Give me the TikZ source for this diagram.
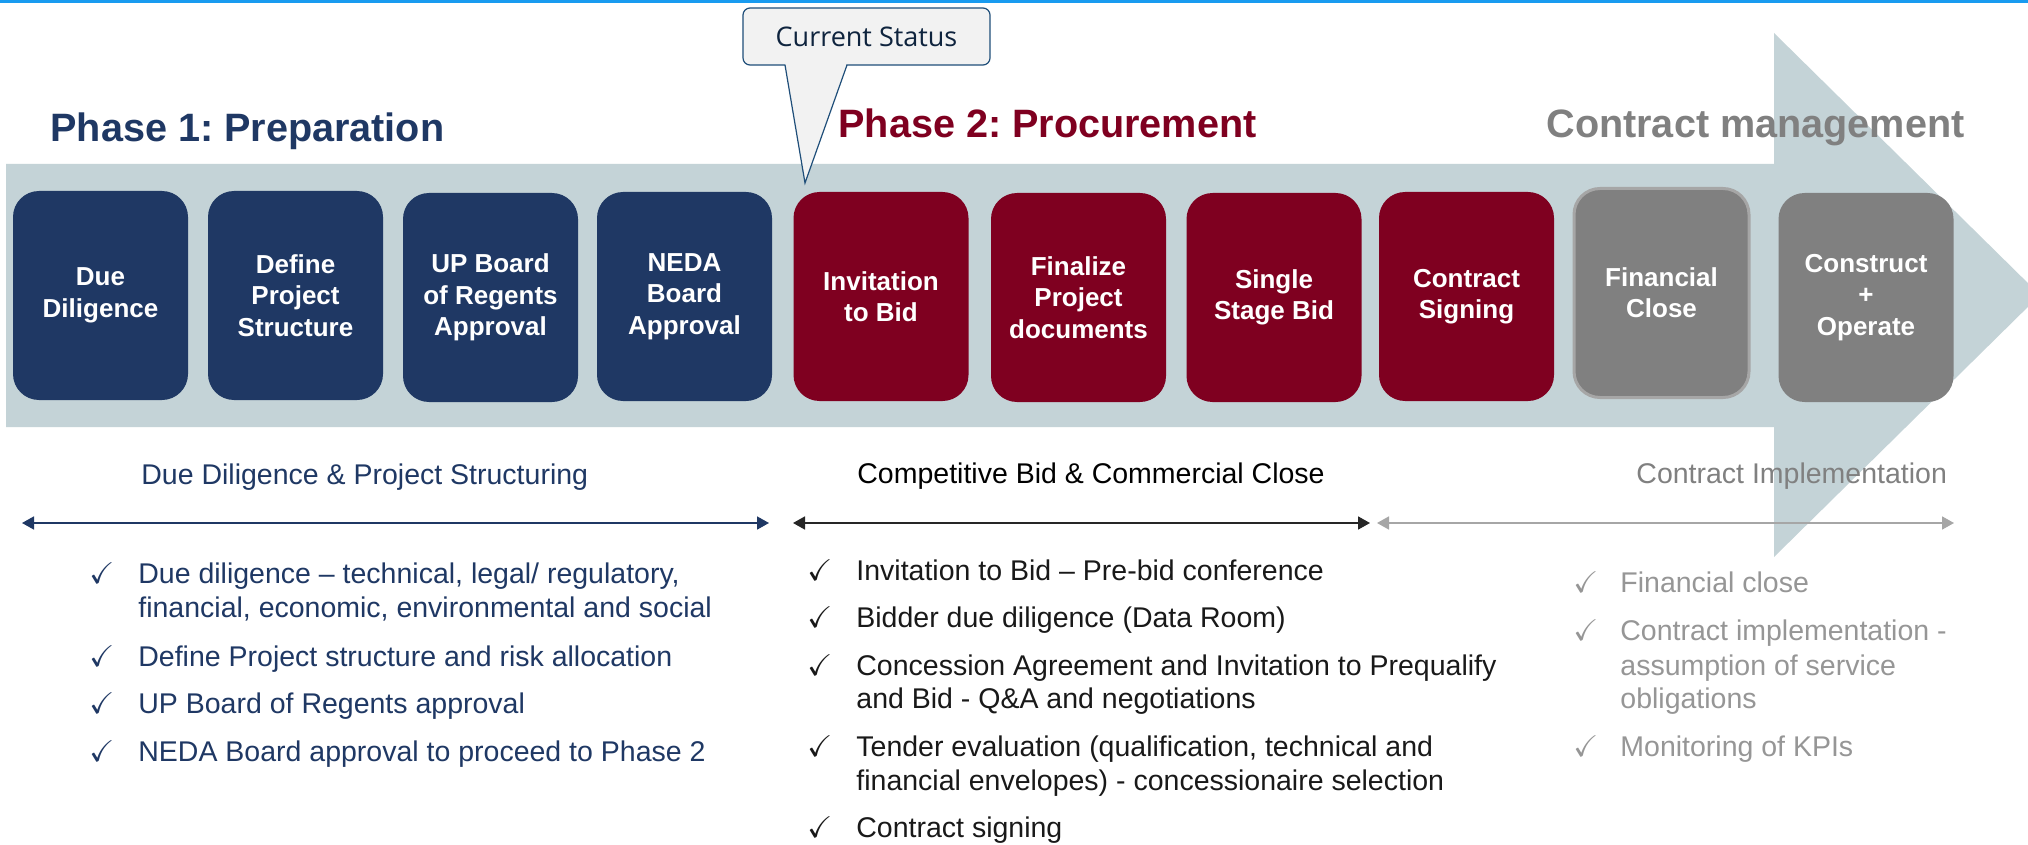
\documentclass[tikz,border=0pt]{standalone}
\usepackage{amssymb}
\usepackage{fontspec}
\setmainfont{Liberation Sans}
\newfontfamily\osfont{Open Sans}
\usetikzlibrary{arrows.meta}
\definecolor{navy}{RGB}{31,56,100}
\definecolor{wine}{RGB}{127,0,32}
\definecolor{boxgrey}{RGB}{128,128,128}
\definecolor{bordergrey}{RGB}{166,166,166}
\definecolor{bandcol}{RGB}{196,211,215}
\definecolor{topblue}{RGB}{24,155,240}
\definecolor{callborder}{RGB}{31,78,121}
\definecolor{callfill}{RGB}{242,242,242}
\definecolor{calltext}{RGB}{15,36,62}
\definecolor{lightgreytext}{RGB}{150,150,150}
\definecolor{midgrey}{RGB}{128,128,128}
\frenchspacing
\begin{document}
\begin{tikzpicture}[x=0.5pt,y=-0.5pt,
  stage/.style={rounded corners=13pt, minimum width=87.5pt, minimum height=104.5pt,
    inner sep=0pt, align=center, text=white, font=\fontsize{13}{15.7}\selectfont\bfseries},
  bluestage/.style={stage, fill=navy},
  redstage/.style={stage, fill=wine},
  greystage/.style={stage, fill=boxgrey},
  title/.style={anchor=base west, inner sep=0pt, font=\fontsize{19.8}{23}\selectfont\bfseries},
  body/.style={anchor=base west, inner sep=0pt, font=\fontsize{14.25}{17}\selectfont},
  tick/.style={anchor=base west, inner sep=0pt, font=\fontsize{15}{17}\selectfont},
  dbl/.style={line width=0.85pt, {Triangle[length=6pt,width=6.5pt]}-{Triangle[length=6pt,width=6.5pt]}},
  callbox/.style={draw=callborder, fill=callfill, line width=0.6pt, rounded corners=3.5pt,
    minimum width=123.5pt, minimum height=28.5pt, inner sep=0pt, text=calltext,
    font=\osfont\fontsize{13.5}{16}\selectfont}
]
\useasboundingbox (0,0) rectangle (2028,845);
\clip (0,0) rectangle (2028,845);
\fill[white] (0,0) rectangle (2028,845);
% top line
\fill[topblue] (0,0) rectangle (2028,3);
% big arrow
\fill[bandcol] (6,164) -- (1774,164) -- (1774,33) -- (2040,295) -- (1774,557) -- (1774,427) -- (6,427) -- cycle;

% stages
\node[bluestage] (s1) at (100.5,295.5) {Due\\Diligence};
\node[bluestage] (s2) at (295.5,295.5) {Define\\Project\\Structure};
\node[bluestage] (s3) at (490.5,297.5) {UP Board\\of Regents\\Approval};
\node[bluestage] (s4) at (684.5,296.5) {NEDA\\Board\\Approval};
\node[redstage] (s5) at (881,296.5) {Invitation\\to Bid};
\node[redstage] (s6) at (1078.5,297.5) {Finalize\\Project\\documents};
\node[redstage] (s7) at (1274,297.5) {Single\\Stage Bid};
\node[redstage] (s8) at (1466.5,296.5) {Contract\\Signing};
\node[greystage, draw=bordergrey, line width=1.5pt] (s9) at (1661.5,293) {Financial\\Close};
\node[greystage] (s10) at (1866,297.5) {Construct\\+\\Operate};

% callout
\node[callbox] (cs) at (866.5,36.5) {Current Status};
\coordinate (csfl) at (785,62.5);
\coordinate (csfr) at (847,62.5);
\coordinate (csl) at (785,65);
\coordinate (csr) at (847,65);
\coordinate (cstip) at (805,183);
\fill[callfill] (csfl) -- (cstip) -- (csfr) -- cycle;
\draw[callborder, line width=0.6pt, line join=miter] (csl) -- (cstip) -- (csr);

% titles
\node[title, text=navy] (t1) at (50,142) {Phase 1: Preparation};
\node[title, text=wine] (t2) at (838,138) {Phase 2: Procurement};
\node[title, text=midgrey] (t3) at (1546,138) {Contract management};

% section labels
\node[body, text=navy] (l1) at (141,484) {Due Diligence \& Project Structuring};
\node[body, text=black] (l2) at (857,483) {Competitive Bid \& Commercial Close};
\node[body, text=midgrey] (l3) at (1636,483) {Contract Implementation};

% double arrows
\coordinate (a1l) at (22,523);
\coordinate (a1r) at (769,523);
\coordinate (a2l) at (793,523);
\coordinate (a2r) at (1370,523);
\coordinate (a3l) at (1377,523);
\coordinate (a3r) at (1954,523);
\draw[dbl, navy] (a1l) -- (a1r);
\draw[dbl, black!85] (a2l) -- (a2r);
\draw[dbl, bordergrey] (a3l) -- (a3r);

% phase 1 list
\begin{scope}[every node/.append style={text=navy}]
\node[tick] (c11) at (89,583) {$\checkmark$};
\node[body] (p11a) at (138,583) {Due diligence – technical, legal/ regulatory,};
\node[body] (p11b) at (138,617) {financial, economic, environmental and social};
\node[tick] (c12) at (89,666) {$\checkmark$};
\node[body] (p12) at (138,666) {Define Project structure and risk allocation};
\node[tick] (c13) at (89,713) {$\checkmark$};
\node[body] (p13) at (138,713) {UP Board of Regents approval};
\node[tick] (c14) at (89,761) {$\checkmark$};
\node[body] (p14) at (138,761) {NEDA Board approval to proceed to Phase 2};
\end{scope}

% phase 2 list
\begin{scope}[every node/.append style={text=black!90}]
\node[tick] (c21) at (807,580) {$\checkmark$};
\node[body] (p21) at (856,580) {Invitation to Bid – Pre-bid conference};
\node[tick] (c22) at (807,627) {$\checkmark$};
\node[body] (p22) at (856,627) {Bidder due diligence (Data Room)};
\node[tick] (c23) at (807,675) {$\checkmark$};
\node[body] (p23a) at (856,675) {Concession Agreement and Invitation to Prequalify};
\node[body] (p23b) at (856,708) {and Bid - Q\&A and negotiations};
\node[tick] (c24) at (807,756) {$\checkmark$};
\node[body] (p24a) at (856,756) {Tender evaluation (qualification, technical and};
\node[body] (p24b) at (856,790) {financial envelopes) - concessionaire selection};
\node[tick] (c25) at (807,837) {$\checkmark$};
\node[body] (p25) at (856,837) {Contract signing};
\end{scope}

% phase 3 list
\begin{scope}[every node/.append style={text=lightgreytext}]
\node[tick] (c31) at (1573,592) {$\checkmark$};
\node[body] (p31) at (1620,592) {Financial close};
\node[tick] (c32) at (1573,640) {$\checkmark$};
\node[body] (p32a) at (1620,640) {Contract implementation -};
\node[body] (p32b) at (1620,675) {assumption of service};
\node[body] (p32c) at (1620,708) {obligations};
\node[tick] (c33) at (1573,756) {$\checkmark$};
\node[body] (p33) at (1620,756) {Monitoring of KPIs};
\end{scope}
\end{tikzpicture}
\end{document}
